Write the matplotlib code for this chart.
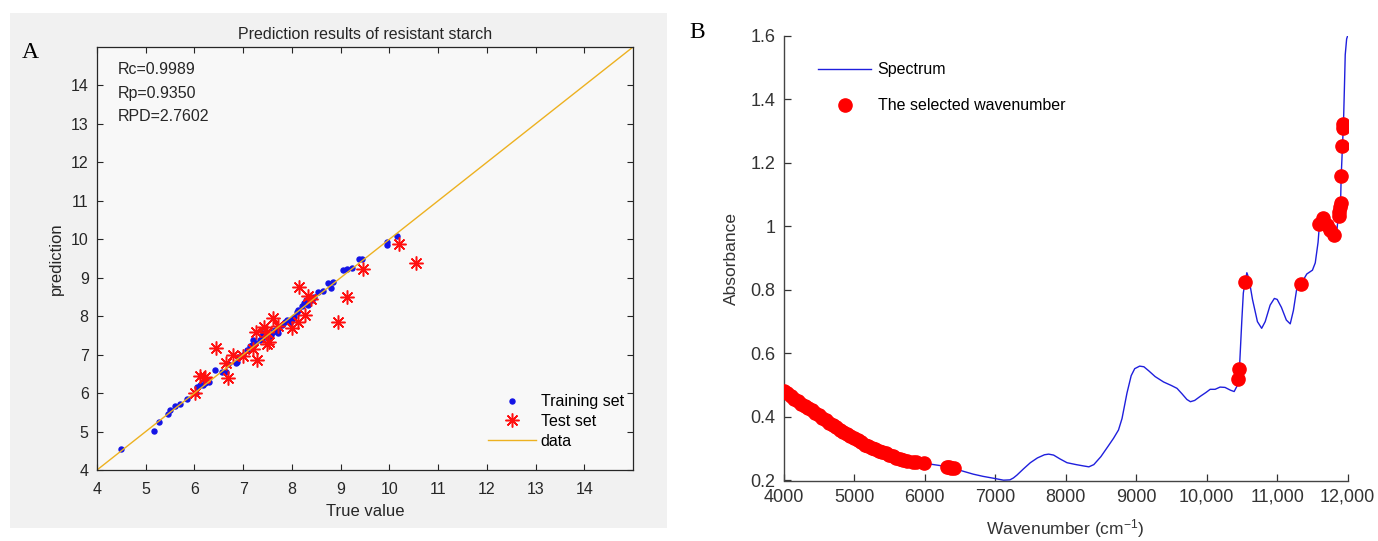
import matplotlib
matplotlib.use("Agg")
import matplotlib.pyplot as plt
from matplotlib.lines import Line2D
from matplotlib.patches import Rectangle

plt.rcParams["font.family"] = ["Liberation Sans", "DejaVu Sans"]
plt.rcParams["mathtext.default"] = "regular"

# ---------------- Panel A data: resistant starch prediction ----------------
train_true = [4.49, 5.16, 5.28, 5.46, 5.49, 5.60, 5.70, 5.84, 6.03, 6.05, 6.11, 6.18,
              6.22, 6.30, 6.42, 6.56, 6.65, 6.68, 6.85, 6.88, 6.90, 7.00, 7.07, 7.13,
              7.18, 7.21, 7.25, 7.35, 7.38, 7.40, 7.45, 7.55, 7.58, 7.62, 7.65, 7.72,
              7.72, 7.79, 7.85, 7.89, 7.96, 8.00, 8.05, 8.10, 8.13, 8.20, 8.24, 8.29,
              8.34, 8.41, 8.45, 8.54, 8.64, 8.75, 8.80, 8.84, 9.04, 9.14, 9.23, 9.37,
              9.44, 9.95, 9.96, 10.15]
train_pred = [4.55, 5.02, 5.26, 5.46, 5.56, 5.67, 5.71, 5.84, 6.00, 6.17, 6.20, 6.22,
              6.26, 6.30, 6.60, 6.56, 6.56, 6.76, 6.78, 6.80, 6.93, 7.00, 7.12, 7.23,
              7.26, 7.37, 7.30, 7.39, 7.49, 7.55, 7.45, 7.46, 7.52, 7.58, 7.65, 7.56,
              7.67, 7.78, 7.85, 7.91, 7.82, 7.90, 7.99, 8.12, 8.17, 8.27, 8.34, 8.43,
              8.30, 8.43, 8.50, 8.64, 8.66, 8.86, 8.73, 8.90, 9.19, 9.23, 9.25, 9.49,
              9.49, 9.93, 9.86, 10.08]

test_true = [6.01, 6.12, 6.20, 6.22, 6.68, 6.65, 6.44, 6.79, 7.00, 7.21, 7.28, 7.26,
             7.43, 7.48, 7.52, 7.48, 7.62, 7.71, 8.00, 8.13, 8.27, 8.15, 8.34, 8.39,
             8.95, 9.13, 9.46, 10.19, 10.54]
test_pred = [6.00, 6.45, 6.39, 6.42, 6.39, 6.78, 7.17, 6.99, 6.97, 7.15, 6.86, 7.60,
             7.72, 7.60, 7.34, 7.27, 7.95, 7.75, 7.69, 7.86, 8.04, 8.75, 8.53, 8.45,
             7.86, 8.51, 9.23, 9.88, 9.39]

ref_line = [4, 15]
stats_lines = ["Rc=0.9989", "Rp=0.9350", "RPD=2.7602"]
a_ticks = [4, 5, 6, 7, 8, 9, 10, 11, 12, 13, 14]

# ---------------- Panel B data: spectrum and selected wavenumbers ----------------
spec_wn = [4000, 4150, 4330, 4450, 4565, 4700, 4800, 4920, 5040, 5150, 5270, 5400,
           5510, 5630, 5750, 5870, 5990, 6100, 6220, 6320, 6410, 6550, 6690, 6830,
           6980, 7120, 7210, 7260, 7310, 7400, 7500, 7600, 7700, 7760, 7830, 7920,
           8020, 8150, 8250, 8330, 8400, 8500, 8600, 8680, 8750, 8800, 8870, 8930,
           8980, 9050, 9110, 9180, 9270, 9390, 9500, 9580, 9650, 9720, 9770, 9830,
           9910, 9990, 10050, 10120, 10190, 10260, 10340, 10390, 10430, 10450, 10465,
           10499, 10520, 10546, 10570, 10600, 10650, 10720, 10780, 10830, 10900,
           10960, 11000, 11060, 11130, 11185, 11230, 11275, 11336, 11420, 11500,
           11540, 11580, 11600, 11648, 11705, 11752, 11799, 11840, 11870, 11889,
           11899, 11908, 11926, 11940, 11955, 11965, 11985, 12000]
spec_abs = [0.483, 0.457, 0.432, 0.413, 0.396, 0.374, 0.359, 0.343, 0.328, 0.313,
            0.301, 0.290, 0.280, 0.270, 0.262, 0.257, 0.254, 0.251, 0.247, 0.243,
            0.238, 0.229, 0.220, 0.213, 0.207, 0.201, 0.202, 0.208, 0.217, 0.236,
            0.256, 0.271, 0.281, 0.283, 0.280, 0.268, 0.256, 0.250, 0.246, 0.243,
            0.250, 0.275, 0.307, 0.333, 0.359, 0.395, 0.475, 0.530, 0.552, 0.560,
            0.558, 0.545, 0.527, 0.510, 0.499, 0.490, 0.473, 0.455, 0.448, 0.452,
            0.465, 0.477, 0.487, 0.487, 0.494, 0.493, 0.484, 0.480, 0.497, 0.520,
            0.552, 0.705, 0.790, 0.826, 0.854, 0.835, 0.770, 0.700, 0.679, 0.700,
            0.752, 0.773, 0.770, 0.745, 0.705, 0.693, 0.735, 0.800, 0.818, 0.850,
            0.862, 0.885, 0.950, 1.008, 1.026, 1.005, 0.989, 0.973, 0.972, 1.040,
            1.060, 1.075, 1.159, 1.254, 1.323, 1.450, 1.540, 1.590, 1.600]

sel_wn = [4000, 4050, 4100, 4150, 4200, 4250, 4300, 4350, 4400, 4450, 4500, 4550,
          4600, 4650, 4700, 4750, 4800, 4850, 4900, 4950, 5000, 5050, 5100, 5150,
          5200, 5250, 5300, 5350, 5400, 5450, 5500, 5550, 5600, 5650, 5700, 5750,
          5840, 5880, 5990, 6320, 6350, 6380, 6420,
          10450, 10465, 10546, 11336,
          11600, 11648, 11671, 11705, 11752, 11799,
          11870, 11875, 11889, 11899, 11908, 11926, 11932, 11940]
sel_abs = [0.483, 0.474, 0.466, 0.457, 0.450, 0.442, 0.435, 0.428, 0.421, 0.413,
           0.406, 0.398, 0.390, 0.382, 0.374, 0.367, 0.359, 0.352, 0.346, 0.339,
           0.333, 0.327, 0.320, 0.313, 0.308, 0.303, 0.298, 0.294, 0.290, 0.286,
           0.281, 0.277, 0.272, 0.268, 0.265, 0.262, 0.258, 0.257, 0.254, 0.243,
           0.242, 0.240, 0.238,
           0.520, 0.552, 0.826, 0.818,
           1.008, 1.026, 1.012, 1.005, 0.989, 0.973,
           1.031, 1.046, 1.060, 1.075, 1.159, 1.254, 1.310, 1.323]

b_xticks = [4000, 5000, 6000, 7000, 8000, 9000, 10000, 11000, 12000]
b_xlabels = ["4000", "5000", "6000", "7000", "8000", "9000", "10,000", "11,000", "12,000"]
b_yticks = [0.2, 0.4, 0.6, 0.8, 1.0, 1.2, 1.4, 1.6]
b_ylabels = ["0.2", "0.4", "0.6", "0.8", "1", "1.2", "1.4", "1.6"]

W, H = 1378, 541
fig = plt.figure(figsize=(W / 100, H / 100), dpi=100)

# light grey backdrop behind the left panel
fig.patches.append(Rectangle((10 / W, 13 / H), 657 / W, 515 / H,
                             transform=fig.transFigure, facecolor="#f1f1f1",
                             edgecolor="none", zorder=-10))

ink = "#262626"

# ---------------- Panel A ----------------
axA = fig.add_axes([97 / W, 71 / H, 536 / W, 423 / H])
axA.set_zorder(1)
axA.set_facecolor("#f8f8f8")
axA.plot(train_true, train_pred, linestyle="none", marker="o", markersize=3.6,
         color="#1414e6", label="Training set")
axA.plot(test_true, test_pred, linestyle="none", marker=(8, 2, 0), markersize=10,
         markeredgewidth=1.1, color="#ff1010", label="Test set")
axA.plot(ref_line, ref_line, color="#EDB120", linewidth=1.0, label="data")
axA.set_xlim(4, 15)
axA.set_ylim(4, 15)
axA.set_xticks(a_ticks)
axA.set_yticks(a_ticks)
axA.tick_params(direction="in", top=True, right=True, length=4, width=0.8,
                colors=ink, labelsize=11.5)
axA.tick_params(axis="x", pad=9)
axA.tick_params(axis="y", pad=6)
for s in axA.spines.values():
    s.set_color(ink)
    s.set_linewidth(0.9)
axA.set_xlabel("True value", fontsize=12, color=ink, labelpad=5)
axA.set_ylabel("prediction", fontsize=12, color=ink, labelpad=5)
axA.set_title("Prediction results of resistant starch", fontsize=11.5, color=ink, pad=6)
for i, line in enumerate(stats_lines):
    axA.text(0.039, 0.946 - i * 0.055, line, transform=axA.transAxes,
             fontsize=11.5, color=ink, va="center", ha="left")
axA.legend(loc="lower right", bbox_to_anchor=(0.983, 0.05), frameon=False,
           fontsize=11.5, handlelength=3.0, handletextpad=0.3, labelspacing=0.3,
           borderaxespad=0, borderpad=0)

fig.text(30 / W, 1 - 52 / H, "A", family=["Liberation Serif"], fontsize=17,
         ha="center", va="center", color="black")

# ---------------- Panel B ----------------
axB = fig.add_axes([783.5 / W, 60.5 / H, 564.2 / W, 444.8 / H])
axB.set_zorder(1)
axB.plot(spec_wn, spec_abs, color="#1f1fdd", linewidth=1.0, zorder=2)
axB.plot(sel_wn, sel_abs, linestyle="none", marker="o", markersize=9.5,
         color="#ff0000", zorder=3)
axB.set_xlim(4000, 12000)
axB.set_ylim(0.2, 1.6)
axB.set_xticks(b_xticks, labels=b_xlabels)
axB.set_yticks(b_yticks, labels=b_ylabels)
axB.spines["top"].set_visible(False)
axB.spines["right"].set_visible(False)
for s in ("left", "bottom"):
    axB.spines[s].set_color("#444444")
    axB.spines[s].set_linewidth(1.0)
axB.tick_params(direction="in", length=5, width=0.9, colors="#333333",
                labelsize=13, pad=6)
axB.set_xlabel("Wavenumber (cm$^{-1}$)", fontsize=12.5, color="#333333", labelpad=8)
axB.set_ylabel("Absorbance", fontsize=12.5, color="#333333", labelpad=8)

handles = [Line2D([], [], color="#1f1fdd", linewidth=1.0),
           Line2D([], [], linestyle="none", marker="o", markersize=9.5, color="#ff0000")]
axB.legend(handles, ["Spectrum", "The selected wavenumber"], loc="upper left",
           bbox_to_anchor=(0.062, 0.94), frameon=False, fontsize=11.5,
           handlelength=3.3, handletextpad=0.4, labelspacing=1.3,
           borderaxespad=0, borderpad=0)

fig.text(697 / W, 1 - 33 / H, "B", family=["Liberation Serif"], fontsize=17,
         ha="center", va="center", color="black")

fig.savefig("out.png", dpi=100)
